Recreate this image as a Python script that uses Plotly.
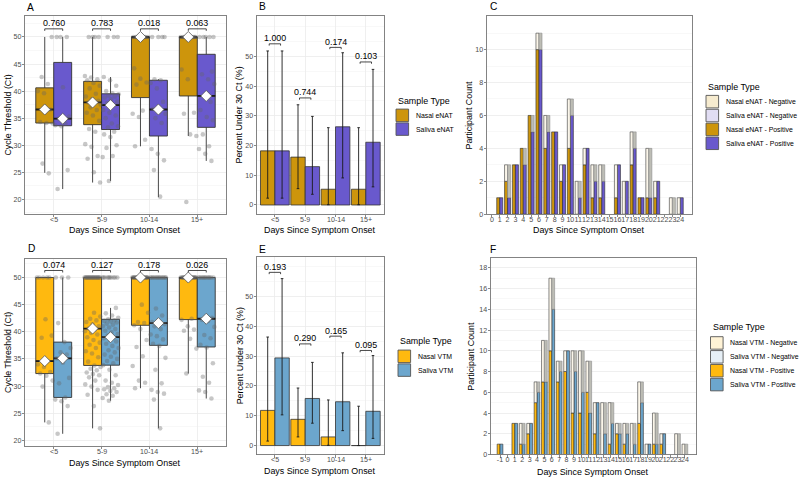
import plotly.graph_objects as go

W, H = 800, 483
FONT = "Liberation Sans, Arial, Helvetica, sans-serif"

# ------------------------------------------------------------------ data
groups = ['<5', '5-9', '10-14', '15+']

# Panel A (eNAT) box statistics (Ct)
enat_nasal_q1 = [34.1, 33.8, 38.8, 39.1]
enat_nasal_med = [36.6, 37.9, 50.0, 50.0]
enat_nasal_q3 = [40.6, 41.8, 50.0, 50.0]
enat_nasal_lo = [24.9, 23.1, 29.8, 31.7]
enat_nasal_hi = [50.0, 50.0, 50.0, 50.0]
enat_saliva_q1 = [33.6, 32.9, 31.7, 33.3]
enat_saliva_med = [34.9, 37.4, 36.6, 39.1]
enat_saliva_q3 = [45.3, 39.5, 42.0, 46.8]
enat_saliva_lo = [21.9, 23.4, 20.4, 27.1]
enat_saliva_hi = [50.0, 42.6, 42.2, 50.0]

# Panel A individual Ct values
enat_nasal_pts = [
    [24.8, 26.6, 34.0, 34.1, 34.3, 36.6, 39.6, 40.0, 41.3, 42.6, 50],
    [23.1, 25.0, 27.5, 28.0, 29.7, 30.2, 32.5, 33.0, 34.5, 35.5, 36.0, 36.5, 37.0, 37.5, 37.8,
     37.9, 38.2, 38.5, 39.0, 39.5, 40.5, 41.0, 41.5, 42.0, 42.2, 42.5, 42.8, 50, 50, 50, 50],
    [29.8, 31.0, 35.2, 35.8, 36.4, 41.2, 41.6, 42.3, 44.2, 50, 50, 50, 50, 50, 50, 50, 50, 50, 50],
    [19.5, 31.7, 32.0, 35.8, 36.0, 42.2, 44.0, 50, 50, 50, 50, 50, 50, 50, 50, 50, 50, 50, 50],
]
enat_saliva_pts = [
    [21.9, 25.4, 33.5, 33.7, 34.0, 34.9, 35.3, 40.7, 50, 50, 50],
    [23.4, 27.8, 28.0, 29.5, 30.0, 31.5, 32.0, 32.5, 33.3, 33.5, 34.0, 35.0, 35.5, 36.0, 36.5,
     37.4, 37.8, 38.0, 38.5, 38.8, 39.0, 39.2, 39.4, 39.6, 40.0, 41.0, 42.0, 42.6, 50, 50, 50],
    [20.5, 25.4, 27.2, 28.4, 29.3, 34.1, 35.0, 35.8, 36.2, 36.7, 38.0, 40.5, 41.5, 42.0, 42.2,
     50, 50, 50, 50],
    [27.1, 28.4, 29.3, 29.8, 32.0, 34.6, 35.2, 36.5, 38.0, 39.1, 41.3, 42.2, 43.1, 43.6,
     50, 50, 50, 50, 50],
]

# Panel D (VTM) box statistics (Ct)
vtm_nasal_q1 = [32.3, 33.8, 41.2, 42.25]
vtm_nasal_med = [34.6, 40.6, 50.0, 50.0]
vtm_nasal_q3 = [50.0, 50.0, 50.0, 50.0]
vtm_nasal_lo = [23.3, 22.2, 29.6, 32.3]
vtm_nasal_hi = [50.0, 50.0, 50.0, 50.0]
vtm_saliva_q1 = [27.9, 33.85, 37.5, 37.2]
vtm_saliva_med = [35.1, 39.0, 41.6, 42.4]
vtm_saliva_q3 = [38.1, 42.3, 50.0, 50.0]
vtm_saliva_lo = [21.2, 27.3, 22.2, 27.7]
vtm_saliva_hi = [50.0, 44.4, 50.0, 50.0]

vtm_nasal_pts = [
    [23.3, 29.9, 31.0, 31.9, 32.3, 32.6, 33.5, 34.0, 34.6, 38.9, 39.3, 42.3, 50, 50, 50, 50, 50],
    [22.2, 26.3, 28.4, 29.3, 29.9, 30.3, 31.0, 31.6, 32.0, 32.2, 32.5, 32.9, 33.2, 33.5, 33.8,
     34.5, 35.3, 36.0, 36.4, 37.0, 37.6, 38.0, 38.5, 39.0, 39.5, 39.8, 40.1, 40.4, 40.6,
     41.0, 41.4, 41.8, 42.1, 42.4, 42.8, 43.5] + [50] * 21,
    [29.6, 30.6, 31.0, 33.7, 35.5, 37.2, 38.5, 40.5, 41.2, 41.6, 41.8, 43.5, 45.0] + [50] * 21,
    [32.3, 36.9, 38.7, 40.2, 40.4, 41.0, 42.2, 42.4] + [50] * 18,
]
vtm_saliva_pts = [
    [21.2, 26.3, 27.2, 27.5, 27.9, 30.5, 31.5, 34.3, 35.1, 35.8, 36.2, 37.0, 38.1, 41.6, 50, 50, 50],
    [27.3, 27.8, 28.2, 28.5, 28.9, 29.1, 29.4, 29.6, 29.8, 30.2, 30.6, 31.0, 32.0, 33.0, 33.85,
     34.2, 34.6, 35.0, 35.4, 35.8, 36.2, 36.6, 37.0, 37.4, 37.8, 38.2, 38.5, 38.8, 39.0,
     39.3, 39.6, 39.9, 40.2, 40.5, 40.8, 41.0, 41.3, 41.5, 41.7, 41.9, 42.0, 42.1, 42.3,
     42.6, 43.0, 43.4, 44.4] + [50] * 10,
    [22.2, 27.5, 28.6, 28.9, 29.3, 30.5, 33.0, 35.2, 37.4, 37.8, 38.6, 39.2, 39.5, 40.5, 41.0,
     41.4, 41.6, 41.8, 43.0, 44.3] + [50] * 14,
    [27.7, 28.9, 29.2, 30.6, 31.7, 34.2, 37.1, 37.6, 38.8, 39.4, 40.9, 42.0, 42.2, 42.6] + [50] * 12,
]

pval_a = ['0.760', '0.783', '0.018', '0.063']
pval_d = ['0.074', '0.127', '0.178', '0.026']

# Panels B / E : percent under 30 Ct with 95% CI
pct_enat_nasal = [18.2, 16.1, 5.3, 5.3]
pct_enat_nasal_lo = [2.3, 5.5, 0.1, 0.1]
pct_enat_nasal_hi = [51.8, 33.7, 26.0, 26.0]
pct_enat_saliva = [18.2, 12.9, 26.3, 21.1]
pct_enat_saliva_lo = [2.3, 3.6, 9.1, 6.1]
pct_enat_saliva_hi = [51.8, 29.8, 51.2, 45.6]
pval_b = ['1.000', '0.744', '0.174', '0.103']

pct_vtm_nasal = [11.8, 8.8, 2.9, 0.0]
pct_vtm_nasal_lo = [1.5, 2.9, 0.1, 0.0]
pct_vtm_nasal_hi = [36.4, 19.3, 15.3, 13.2]
pct_vtm_saliva = [29.4, 15.8, 14.7, 11.5]
pct_vtm_saliva_lo = [10.3, 7.5, 5.0, 2.4]
pct_vtm_saliva_hi = [56.0, 27.9, 31.1, 30.2]
pval_e = ['0.193', '0.290', '0.165', '0.095']

# Panels C / F : participant counts by day
enat_days = [1, 2, 3, 4, 5, 6, 7, 8, 9, 10, 11, 12, 13, 14, 16, 17, 18, 19, 20, 21, 23, 24]
enat_total = [1, 3, 3, 4, 6, 11, 6, 5, 3, 7, 2, 4, 3, 3, 3, 2, 5, 1, 4, 2, 1, 1]
enat_nasal_pos = [1, 2, 3, 4, 6, 10, 4, 5, 2, 4, 0, 3, 1, 1, 1, 0, 3, 1, 1, 1, 0, 0]
enat_saliva_pos = [1, 1, 3, 3, 5, 10, 5, 5, 3, 6, 1, 4, 2, 2, 3, 2, 4, 1, 1, 2, 0, 1]

vtm_days = [-1, 1, 2, 3, 4, 5, 6, 7, 8, 9, 10, 11, 12, 13, 14, 15, 16, 17, 18, 19, 20, 21, 23, 24]
vtm_total = [1, 3, 3, 3, 7, 11, 17, 9, 10, 10, 10, 9, 5, 5, 5, 3, 3, 3, 7, 1, 4, 2, 2, 1]
vtm_nasal_pos = [1, 3, 1, 2, 5, 7, 10, 7, 8, 4, 4, 6, 2, 0, 1, 2, 1, 0, 3, 0, 1, 1, 0, 0]
vtm_saliva_pos = [1, 3, 1, 3, 6, 7, 14, 8, 10, 8, 6, 4, 5, 2, 3, 2, 2, 1, 5, 1, 1, 2, 0, 0]

enat_day_ticks = list(range(0, 25))
vtm_day_ticks = list(range(-1, 25))

# ------------------------------------------------------------------ styles
C_NASAL_ENAT = '#CD950C'
C_SALIVA_ENAT = '#6959CD'
C_NASAL_VTM = '#FFB90F'
C_SALIVA_VTM = '#6CA6CD'
C_NASAL_ENAT_NEG = '#F6EBCF'
C_SALIVA_ENAT_NEG = '#E1DDF3'
C_NASAL_VTM_NEG = '#FFF3D6'
C_SALIVA_VTM_NEG = '#E6EFF6'
BAR_NEG_NASAL_FILL = '#FBF6EA'
BAR_NEG_SALIVA_FILL = '#BDBDB5'

DODGE_BOX = 0.1875
DODGE_BAR = 0.2375
DODGE_DAY = 0.1925


def px_x(x):
    return x / W


def px_y(y):
    return 1 - y / H


# panel frames in pixels: (left, right, top, bottom)
FR = {
    'A': (25, 226, 16, 216),
    'B': (256.7, 384, 16, 216),
    'C': (486.7, 692, 16, 216),
    'D': (25, 226, 260.7, 450),
    'E': (256.7, 384, 259.3, 458.3),
    'F': (490.7, 696, 260, 458.3),
}

fig = go.Figure()
annotations = []
shapes = []

cat_idx = [1, 2, 3, 4]


def jitter(n, off, half=0.17):
    return [((((i + 1) * 0.6180339887 + off) % 1.0) - 0.5) * 2 * half for i in range(n)]


def add_brackets(xa, ya, pvals, br_y, tip):
    bx, by = [], []
    for i, b in zip(cat_idx, br_y):
        bx += [i - DODGE_BOX, i - DODGE_BOX, i + DODGE_BOX, i + DODGE_BOX, None]
        by += [b - tip, b, b, b - tip, None]
    fig.add_trace(go.Scatter(x=bx, y=by, mode='lines', line=dict(color='#1a1a1a', width=0.8),
                             xaxis=xa, yaxis=ya, showlegend=False, hoverinfo='skip'))
    for i, b, t in zip(cat_idx, br_y, pvals):
        annotations.append(dict(x=i, y=b, xref=xa, yref=ya, text=t, showarrow=False,
                                yanchor='middle', yshift=5.5,
                                font=dict(size=8.9, color='black', family=FONT)))


def add_box_panel(xa, ya, stats_n, stats_s, pts_n, pts_s, col_n, col_s, pvals, br_y, tip):
    for sign, st, col in [(-1, stats_n, col_n), (1, stats_s, col_s)]:
        pos = [i + sign * DODGE_BOX for i in cat_idx]
        q1, med, q3, lo, hi = st
        fig.add_trace(go.Box(
            x=pos, q1=q1, median=med, q3=q3, lowerfence=lo, upperfence=hi,
            width=2 * DODGE_BOX, fillcolor=col, line=dict(color='#333333', width=0.9),
            whiskerwidth=0, boxpoints=False, xaxis=xa, yaxis=ya, showlegend=False,
            hoverinfo='skip'))
        mx, my = [], []
        for p, m in zip(pos, med):
            mx += [p - DODGE_BOX, p + DODGE_BOX, None]
            my += [m, m, None]
        fig.add_trace(go.Scatter(x=mx, y=my, mode='lines', line=dict(color='#1a1a1a', width=1.8),
                                 xaxis=xa, yaxis=ya, showlegend=False, hoverinfo='skip'))
    for sign, pts, off in [(-1, pts_n, 0.13), (1, pts_s, 0.57)]:
        px_, py_ = [], []
        for gi, vals in enumerate(pts):
            jit = jitter(len(vals), off + gi * 0.21)
            for v, j in zip(vals, jit):
                px_.append(cat_idx[gi] + sign * DODGE_BOX + j)
                py_.append(v)
        fig.add_trace(go.Scatter(x=px_, y=py_, mode='markers',
                                 marker=dict(size=4.6, color='rgba(100,100,100,0.36)', line=dict(width=0)),
                                 xaxis=xa, yaxis=ya, showlegend=False, hoverinfo='skip'))
    for sign, st in [(-1, stats_n), (1, stats_s)]:
        pos = [i + sign * DODGE_BOX for i in cat_idx]
        fig.add_trace(go.Scatter(x=pos, y=st[1], mode='markers',
                                 marker=dict(symbol='diamond', size=8.5, color='white',
                                             line=dict(color='#555555', width=0.8)),
                                 xaxis=xa, yaxis=ya, showlegend=False, hoverinfo='skip'))
    add_brackets(xa, ya, pvals, br_y, tip)


def add_pct_panel(xa, ya, series, pvals, br_y, tip):
    for sign, (vals, lo, hi, col) in zip([-1, 1], series):
        fig.add_trace(go.Bar(
            x=[i + sign * DODGE_BAR for i in cat_idx], y=vals, width=2 * DODGE_BAR,
            marker=dict(color=col, line=dict(color='#333333', width=0.8)),
            error_y=dict(type='data', symmetric=False,
                         array=[h - v for h, v in zip(hi, vals)],
                         arrayminus=[v - l for v, l in zip(vals, lo)],
                         color='#1a1a1a', thickness=0.9, width=1.3),
            xaxis=xa, yaxis=ya, showlegend=False, hoverinfo='skip'))
    add_brackets(xa, ya, pvals, br_y, tip)


def add_count_panel(xa, ya, days, total, npos, spos, col_n, col_s):
    nneg = [t - p for t, p in zip(total, npos)]
    sneg = [t - p for t, p in zip(total, spos)]
    nz = lambda arr: [v if v > 0 else None for v in arr]
    xs_n = [d - DODGE_DAY for d in days]
    xs_s = [d + DODGE_DAY for d in days]
    wd = 2 * DODGE_DAY
    fig.add_trace(go.Bar(x=xs_n, y=nz(npos), width=wd,
                         marker=dict(color=col_n, line=dict(color='#2b2b2b', width=0.6)),
                         xaxis=xa, yaxis=ya, showlegend=False, hoverinfo='skip'))
    fig.add_trace(go.Bar(x=xs_s, y=nz(spos), width=wd,
                         marker=dict(color=col_s, line=dict(color='#2b2b2b', width=0.6)),
                         xaxis=xa, yaxis=ya, showlegend=False, hoverinfo='skip'))
    fig.add_trace(go.Bar(x=xs_n, y=nz(nneg), base=npos, width=wd,
                         marker=dict(color=BAR_NEG_NASAL_FILL, line=dict(color='#3a3a3a', width=0.6)),
                         xaxis=xa, yaxis=ya, showlegend=False, hoverinfo='skip'))
    fig.add_trace(go.Bar(x=xs_s, y=nz(sneg), base=spos, width=wd,
                         marker=dict(color=BAR_NEG_SALIVA_FILL, line=dict(color='#8c8c8c', width=0.6)),
                         xaxis=xa, yaxis=ya, showlegend=False, hoverinfo='skip'))


# --- build panels
add_box_panel('x', 'y',
              (enat_nasal_q1, enat_nasal_med, enat_nasal_q3, enat_nasal_lo, enat_nasal_hi),
              (enat_saliva_q1, enat_saliva_med, enat_saliva_q3, enat_saliva_lo, enat_saliva_hi),
              enat_nasal_pts, enat_saliva_pts, C_NASAL_ENAT, C_SALIVA_ENAT,
              pval_a, [51.5] * 4, 0.37)
add_pct_panel('x2', 'y2',
              [(pct_enat_nasal, pct_enat_nasal_lo, pct_enat_nasal_hi, C_NASAL_ENAT),
               (pct_enat_saliva, pct_enat_saliva_lo, pct_enat_saliva_hi, C_SALIVA_ENAT)],
              pval_b, [54.2, 36.0, 53.0, 48.1], 0.6)
add_count_panel('x3', 'y3', enat_days, enat_total, enat_nasal_pos, enat_saliva_pos,
                C_NASAL_ENAT, C_SALIVA_ENAT)
add_box_panel('x4', 'y4',
              (vtm_nasal_q1, vtm_nasal_med, vtm_nasal_q3, vtm_nasal_lo, vtm_nasal_hi),
              (vtm_saliva_q1, vtm_saliva_med, vtm_saliva_q3, vtm_saliva_lo, vtm_saliva_hi),
              vtm_nasal_pts, vtm_saliva_pts, C_NASAL_VTM, C_SALIVA_VTM,
              pval_d, [51.3] * 4, 0.37)
add_pct_panel('x5', 'y5',
              [(pct_vtm_nasal, pct_vtm_nasal_lo, pct_vtm_nasal_hi, C_NASAL_VTM),
               (pct_vtm_saliva, pct_vtm_saliva_lo, pct_vtm_saliva_hi, C_SALIVA_VTM)],
              pval_e, [58.1, 34.1, 36.7, 31.9], 0.6)
add_count_panel('x6', 'y6', vtm_days, vtm_total, vtm_nasal_pos, vtm_saliva_pos,
                C_NASAL_VTM, C_SALIVA_VTM)


# ------------------------------------------------------------------ axes
def ax(domain, rng, tickvals, ticktext=None, grid=True, minor=None, anchor=None, is_x=True,
       show_labels=True):
    d = dict(domain=domain, range=rng, tickmode='array', tickvals=tickvals,
             ticktext=ticktext if ticktext is not None else [str(v) for v in tickvals],
             showgrid=grid, gridcolor='#ebebeb', gridwidth=0.8, zeroline=False,
             showline=True, mirror=True, linecolor='#757575', linewidth=0.9,
             ticks='outside', ticklen=2.2, tickwidth=0.7, tickcolor='#555555',
             tickfont=dict(size=7.1, color='#4d4d4d', family=FONT), tickangle=0,
             fixedrange=True, anchor=anchor, layer='above traces',
             showticklabels=show_labels,
             ticklabelstandoff=-4 if is_x else -1)
    if minor is not None:
        d['minor'] = dict(tickvals=minor, showgrid=True, gridcolor='#f4f4f4', gridwidth=0.6, ticks='')
    return d


def dom(letter):
    l, r, t, b = FR[letter]
    return [px_x(l), px_x(r)], [px_y(b), px_y(t)]


layout_axes = {}
specs = [
    ('A', '', [0.4, 4.6], cat_idx, groups, True, [17.25, 53.9], [20, 25, 30, 35, 40, 45, 50],
     [17.5, 22.5, 27.5, 32.5, 37.5, 42.5, 47.5, 52.5], False),
    ('B', '2', [0.4, 4.6], cat_idx, groups, True, [-3.1, 63.6], [0, 10, 20, 30, 40, 50],
     [5, 15, 25, 35, 45, 55, 60], False),
    ('C', '3', [-0.66, 25.5], enat_day_ticks, None, False, [0, 12.05], [0, 2, 4, 6, 8, 10],
     [1, 3, 5, 7, 9, 11, 12], True),
    ('D', '4', [0.4, 4.6], cat_idx, groups, True, [18.9, 53.5], [20, 25, 30, 35, 40, 45, 50],
     [22.5, 27.5, 32.5, 37.5, 42.5, 47.5, 52.5], False),
    ('E', '5', [0.4, 4.6], cat_idx, groups, True, [-3.0, 63.2], [0, 10, 20, 30, 40, 50],
     [5, 15, 25, 35, 45, 55, 60], False),
    ('F', '6', [-2.26, 25.5], vtm_day_ticks, None, False, [0, 18.96], [0, 2, 4, 6, 8, 10, 12, 14, 16, 18],
     [1, 3, 5, 7, 9, 11, 13, 15, 17], True),
]
for letter, n, xr, xt, xtt, xgrid, yr, yt, ymin, xlab in specs:
    xd, yd = dom(letter)
    layout_axes['xaxis' + n] = ax(xd, xr, xt, xtt, grid=xgrid, anchor='y' + n, is_x=True,
                                  show_labels=xlab)
    layout_axes['yaxis' + n] = ax(yd, yr, yt, None, grid=True, minor=ymin, anchor='x' + n, is_x=False)

# category tick labels for the four grouped panels, placed on their own x axes
for xa, letter in [('x', 'A'), ('x2', 'B'), ('x4', 'D'), ('x5', 'E')]:
    l, r, t, b = FR[letter]
    for i, g in zip(cat_idx, groups):
        annotations.append(dict(x=i, y=px_y(b + 5.6), xref=xa, yref='paper', text=g,
                                showarrow=False, xanchor='center', yanchor='middle',
                                font=dict(size=7.1, color='#4d4d4d', family=FONT)))


# ------------------------------------------------------------------ text
def paper_text(x, y, text, size, xanchor='center', yanchor='middle', angle=0, color='black'):
    annotations.append(dict(x=px_x(x), y=px_y(y), xref='paper', yref='paper', text=text,
                            showarrow=False, xanchor=xanchor, yanchor=yanchor, textangle=angle,
                            font=dict(size=size, color=color, family=FONT)))


for letter, (lx, ly) in {'A': (25, 7.5), 'B': (256.7, 7.0), 'C': (488, 7.0),
                         'D': (26, 250.5), 'E': (256.7, 251.5), 'F': (488.3, 251.5)}.items():
    paper_text(lx, ly, letter, 10.2, xanchor='left')

XT = 'Days Since Symptom Onset'
for letter, yy in [('A', 232.2), ('B', 231.7), ('C', 231.7), ('D', 466.7), ('E', 475.0), ('F', 476)]:
    l, r, t, b = FR[letter]
    paper_text((l + r) / 2, yy, XT, 8.9)

for letter, xx, txt in [('A', 8.5, 'Cycle Threshold (Ct)'), ('B', 239.5, 'Percent Under 30 Ct (%)'),
                        ('C', 469.5, 'Participant Count'), ('D', 8.5, 'Cycle Threshold (Ct)'),
                        ('E', 239.5, 'Percent Under 30 Ct (%)'), ('F', 471.5, 'Participant Count')]:
    l, r, t, b = FR[letter]
    paper_text(xx, (t + b) / 2, txt, 8.9, angle=-90)


# ------------------------------------------------------------------ legends
def legend(x0, title_y, first_y, step, labels, fills, key=12.6, label_dx=17.6):
    paper_text(x0, title_y, 'Sample Type', 8.9, xanchor='left')
    for k, (lab, col) in enumerate(zip(labels, fills)):
        cy = first_y + k * step
        shapes.append(dict(type='rect', xref='paper', yref='paper',
                           x0=px_x(x0), x1=px_x(x0 + key),
                           y0=px_y(cy + key / 2), y1=px_y(cy - key / 2),
                           fillcolor=col, line=dict(color='#555555', width=0.9)))
        paper_text(x0 + label_dx, cy, lab, 6.9, xanchor='left')


legend(396, 101.5, 116.3, 13.9, ['Nasal eNAT', 'Saliva eNAT'], [C_NASAL_ENAT, C_SALIVA_ENAT])
legend(398, 344, 359.3, 13.9, ['Nasal VTM', 'Saliva VTM'], [C_NASAL_VTM, C_SALIVA_VTM])
legend(706, 87.3, 102.5, 14.0,
       ['Nasal eNAT - Negative', 'Saliva eNAT - Negative', 'Nasal eNAT - Positive', 'Saliva eNAT - Positive'],
       [C_NASAL_ENAT_NEG, C_SALIVA_ENAT_NEG, C_NASAL_ENAT, C_SALIVA_ENAT])
legend(710.5, 330, 345.8, 14.0,
       ['Nasal VTM - Negative', 'Saliva VTM - Negative', 'Nasal VTM - Positive', 'Saliva VTM - Positive'],
       [C_NASAL_VTM_NEG, C_SALIVA_VTM_NEG, C_NASAL_VTM, C_SALIVA_VTM])

fig.update_layout(
    width=W, height=H, margin=dict(l=0, r=0, t=0, b=0),
    paper_bgcolor='white', plot_bgcolor='white',
    barmode='overlay', showlegend=False,
    annotations=annotations, shapes=shapes,
    font=dict(family=FONT, color='black'),
    **layout_axes,
)

fig.write_html("out.html",
               config={'displayModeBar': False, 'staticPlot': True},
               post_script="document.body.style.margin='0';document.body.style.overflow='hidden';")
